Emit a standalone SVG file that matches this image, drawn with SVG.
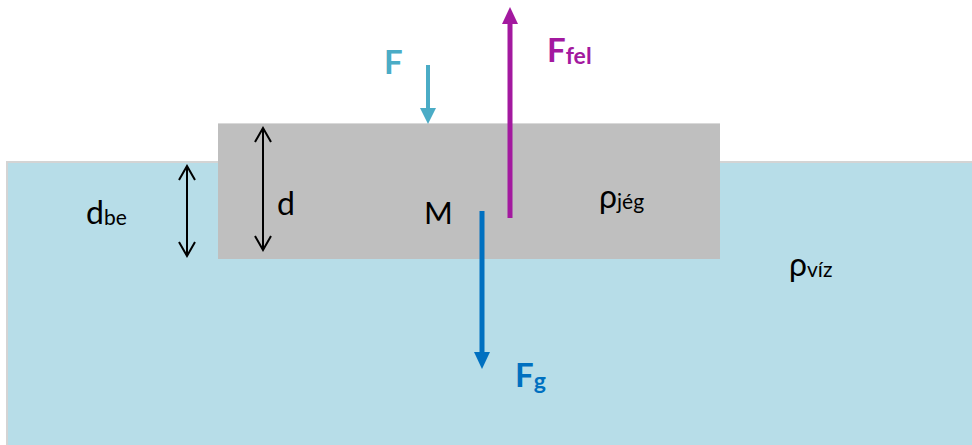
<svg xmlns="http://www.w3.org/2000/svg" width="972" height="445" viewBox="0 0 972 445">
<style>
.lbl{font-family:Lato,"Open Sans","Liberation Sans",sans-serif;fill:#000}
.bold{font-weight:bold}
.dim{stroke:#000;stroke-width:2;fill:none}
</style>
<defs>
<marker id="open" viewBox="0 0 20 20" refX="18" refY="10" markerWidth="20" markerHeight="20" markerUnits="userSpaceOnUse" orient="auto-start-reverse">
<path d="M4,2 L18,10 L4,18" fill="none" stroke="#000" stroke-width="2"/>
</marker>
</defs>
<rect width="972" height="445" fill="#fff"/>
<g id="water">
<rect x="7" y="162" width="970" height="290" fill="#b7dde8" stroke="#d4d4d4" stroke-width="2"/>
<text class="lbl" x="789" y="276" font-size="32">ρ<tspan font-size="21" dy="1">víz</tspan></text>
</g>
<g id="ice">
<rect x="218" y="123" width="502" height="136" fill="#bfbfbf"/>
<line x1="218" y1="123.5" x2="720" y2="123.5" stroke="#d9d9d9" stroke-width="1"/>
<text class="lbl" x="599" y="208" font-size="32">ρ<tspan font-size="21" dy="1">jég</tspan></text>
<text class="lbl" x="424" y="224" font-size="31">M</text>
</g>
<g id="connectors">
<line class="dim" x1="263" y1="128" x2="263" y2="250" marker-start="url(#open)" marker-end="url(#open)"/>
<line class="dim" x1="187" y1="166" x2="187" y2="256" marker-start="url(#open)" marker-end="url(#open)"/>
<line x1="428" y1="65" x2="428" y2="110" stroke="#4bacc6" stroke-width="4"/>
<polygon points="420,108 436,108 428,124" fill="#4bacc6"/>
<line x1="510" y1="218" x2="510" y2="22" stroke="#a3199f" stroke-width="5"/>
<polygon points="502,24 518,24 510,7" fill="#a3199f"/>
<line x1="482" y1="211" x2="482" y2="354" stroke="#0070c0" stroke-width="5"/>
<polygon points="474,352 490,352 482,369" fill="#0070c0"/>
</g>
<g id="labels">
<text class="lbl" x="277" y="215" font-size="32">d</text>
<text class="lbl" x="86" y="224" font-size="32">d<tspan font-size="21" dy="1">be</tspan></text>
<text class="lbl bold" x="384" y="74" font-size="33" style="fill:#4bacc6">F</text>
<text class="lbl bold" x="547" y="62" font-size="33" style="fill:#a3199f">F<tspan font-size="23" dy="2">fel</tspan></text>
<text class="lbl bold" x="515" y="387" font-size="33" style="fill:#0070c0">F<tspan font-size="23" dy="2">g</tspan></text>
</g>
</svg>
